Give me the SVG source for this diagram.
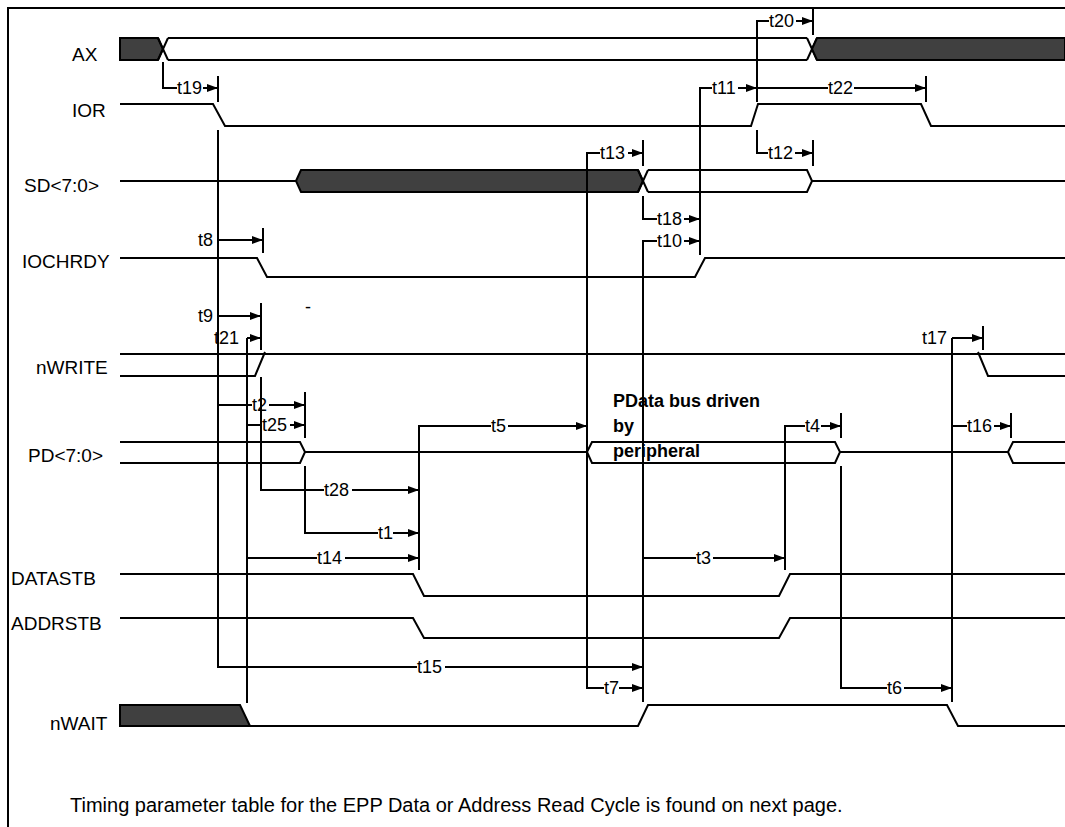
<svg xmlns="http://www.w3.org/2000/svg" width="1065" height="827" viewBox="0 0 1065 827">
<defs>
<style>
.s{fill:none;stroke:#000;stroke-width:2;stroke-linejoin:miter}
.d{fill:#404040;stroke:#000;stroke-width:2}
.c{fill:none;stroke:#000;stroke-width:2}
.t{font-family:"Liberation Sans",Arial,sans-serif;font-size:18px;fill:#000}
.b{font-family:"Liberation Sans",Arial,sans-serif;font-size:18px;font-weight:bold;fill:#000}
.n{font-family:"Liberation Sans",Arial,sans-serif;font-size:19px;fill:#000}
</style>
<marker id="a" markerUnits="userSpaceOnUse" markerWidth="11" markerHeight="8" refX="11" refY="4" orient="auto">
<path d="M0,0 L11,4 L0,8 z" fill="#000"/>
</marker>
</defs>
<rect width="1065" height="827" fill="#fff"/>
<path class="s" d="M8,827 V8 H1065"/>

<g id="AX">
<text class="n" x="72" y="61">AX</text>
<polygon class="d" points="120,38 158,38 163,49 158,60 120,60"/>
<path class="s" d="M158,38 L168,60 M158,60 L168,38 M168,38 H807 M168,60 H807 M807,38 L817,60 M807,60 L817,38"/>
<polygon class="d" points="812,49 817,38 1065,38 1065,60 817,60"/>
</g>
<g id="IOR">
<text class="n" x="72" y="117">IOR</text>
<polyline class="s" points="120,104 213,104 225,126 751,126 758,104 921,104 931,126 1065,126"/>
</g>
<g id="SD">
<text class="n" x="24" y="192">SD&lt;7:0&gt;</text>
<polygon class="d" points="296,181 301,170 638,170 643,181 638,192 301,192"/>
<path class="s" d="M120,181 H296 M638,170 L648,192 M638,192 L648,170 M648,170 H807 L812,181 M648,192 H807 L812,181 H1065"/>
</g>
<g id="IOCHRDY">
<text class="n" x="22" y="268">IOCHRDY</text>
<polyline class="s" points="120,258 257,258 267,277 695,277 705,258 1065,258"/>
</g>
<g id="nWRITE">
<text class="n" x="36" y="374">nWRITE</text>
<path class="s" d="M120,354 H1065 M120,376 H255 L265,352 M978,352 L988,376 H1065"/>
</g>
<g id="PD">
<text class="n" x="28" y="462">PD&lt;7:0&gt;</text>
<path class="s" d="M120,442 H300 L305,452 L300,463 H120 M305,452 H587 L592,442 H835 L840,452 L835,463 H592 L587,452 M840,452 H1008 L1013,442 H1065 M1008,452 L1013,463 H1065"/>
<text class="b" x="613" y="407">PData bus driven</text>
<text class="b" x="613" y="432">by</text>
<text class="b" x="613" y="457">peripheral</text>
</g>
<g id="DATASTB">
<text class="n" x="11" y="585">DATASTB</text>
<polyline class="s" points="120,574 413,574 424,596 779,596 790,574 1065,574"/>
</g>
<g id="ADDRSTB">
<text class="n" x="11" y="630">ADDRSTB</text>
<polyline class="s" points="120,618 413,618 424,638 779,638 790,618 1065,618"/>
</g>
<g id="nWAIT">
<text class="n" x="50" y="730">nWAIT</text>
<polygon class="d" points="120,705 240,705 250,726 120,726"/>
<polyline class="s" points="250,726 638,726 648,705 947,705 958,726 1065,726"/>
</g>

<g id="connectors">
<path class="c" d="M218,76 V102 M263,228 V253 M261,303 V350 M305,392 V438 M643,140 V166 M813,8 V35 M926,76 V102 M813,140 V166 M841,413 V438 M983,326 V350 M1011,413 V438"/>
<path class="c" d="M163,62 V88 H177"/>
<line class="c" x1="203" y1="88" x2="218" y2="88" marker-end="url(#a)"/>
<text class="t" x="177" y="94">t19</text>
<path class="c" d="M218,130 V667 H417"/>
<line class="c" x1="445" y1="667" x2="643" y2="667" marker-end="url(#a)"/>
<text class="t" x="417" y="673">t15</text>
<line class="c" x1="219" y1="240" x2="263" y2="240" marker-end="url(#a)"/>
<text class="t" x="198" y="246">t8</text>
<line class="c" x1="219" y1="316" x2="261" y2="316" marker-end="url(#a)"/>
<text class="t" x="198" y="322">t9</text>
<text class="t" x="214" y="344">t21</text>
<path class="c" d="M247,703 V338"/>
<line class="c" x1="247" y1="338" x2="261" y2="338" marker-end="url(#a)"/>
<path class="c" d="M219,405 H252"/>
<line class="c" x1="269" y1="405" x2="305" y2="405" marker-end="url(#a)"/>
<text class="t" x="252" y="411">t2</text>
<path class="c" d="M247,425 H262"/>
<line class="c" x1="290" y1="425" x2="305" y2="425" marker-end="url(#a)"/>
<text class="t" x="262" y="431">t25</text>
<path class="c" d="M261,377 V490 H324"/>
<line class="c" x1="352" y1="490" x2="419" y2="490" marker-end="url(#a)"/>
<text class="t" x="324" y="496">t28</text>
<path class="c" d="M305,466 V533 H378"/>
<line class="c" x1="393" y1="533" x2="419" y2="533" marker-end="url(#a)"/>
<text class="t" x="378" y="539">t1</text>
<path class="c" d="M247,558 H317"/>
<line class="c" x1="345" y1="558" x2="419" y2="558" marker-end="url(#a)"/>
<text class="t" x="317" y="564">t14</text>
<path class="c" d="M419,570 V426 H491"/>
<line class="c" x1="508" y1="426" x2="587" y2="426" marker-end="url(#a)"/>
<text class="t" x="491" y="432">t5</text>
<path class="c" d="M604,688 H587 V153 H600"/>
<line class="c" x1="628" y1="153" x2="643" y2="153" marker-end="url(#a)"/>
<text class="t" x="600" y="159">t13</text>
<line class="c" x1="619" y1="688" x2="643" y2="688" marker-end="url(#a)"/>
<text class="t" x="604" y="694">t7</text>
<path class="c" d="M643,196 V219 H657"/>
<line class="c" x1="684" y1="219" x2="700" y2="219" marker-end="url(#a)"/>
<text class="t" x="657" y="225">t18</text>
<path class="c" d="M657,241 H643 V702 M643,558 H696"/>
<line class="c" x1="684" y1="241" x2="700" y2="241" marker-end="url(#a)"/>
<text class="t" x="657" y="247">t10</text>
<line class="c" x1="713" y1="558" x2="785" y2="558" marker-end="url(#a)"/>
<text class="t" x="696" y="564">t3</text>
<path class="c" d="M700,255 V88 H712"/>
<line class="c" x1="738" y1="88" x2="757" y2="88" marker-end="url(#a)"/>
<text class="t" x="712" y="94">t11</text>
<path class="c" d="M757,102 V21 H769 M757,88 H828"/>
<line class="c" x1="796" y1="21" x2="813" y2="21" marker-end="url(#a)"/>
<text class="t" x="769" y="27">t20</text>
<line class="c" x1="854" y1="88" x2="926" y2="88" marker-end="url(#a)"/>
<text class="t" x="828" y="94">t22</text>
<path class="c" d="M757,130 V153 H768"/>
<line class="c" x1="795" y1="153" x2="813" y2="153" marker-end="url(#a)"/>
<text class="t" x="768" y="159">t12</text>
<path class="c" d="M785,570 V426 H805"/>
<line class="c" x1="821" y1="426" x2="841" y2="426" marker-end="url(#a)"/>
<text class="t" x="805" y="432">t4</text>
<path class="c" d="M841,466 V688 H887"/>
<line class="c" x1="904" y1="688" x2="952" y2="688" marker-end="url(#a)"/>
<text class="t" x="887" y="694">t6</text>
<path class="c" d="M952,702 V338 M952,426 H967"/>
<line class="c" x1="952" y1="338" x2="983" y2="338" marker-end="url(#a)"/>
<text class="t" x="922" y="344">t17</text>
<line class="c" x1="994" y1="426" x2="1011" y2="426" marker-end="url(#a)"/>
<text class="t" x="967" y="432">t16</text>
</g>
<text class="t" x="305" y="313">-</text>
<text x="70" y="812" style="font-family:'Liberation Sans',Arial,sans-serif;font-size:20px">Timing parameter table for the EPP Data or Address Read Cycle is found on next page.</text>
</svg>
